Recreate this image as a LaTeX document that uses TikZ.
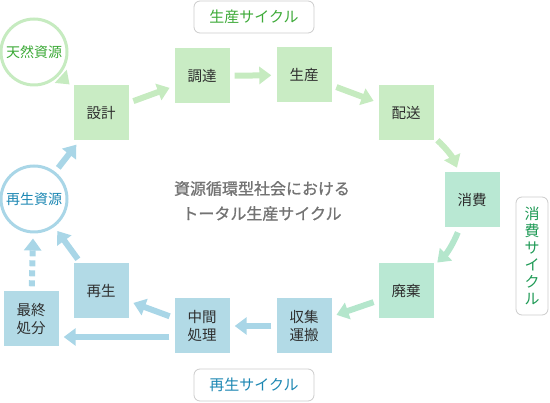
\documentclass[tikz,border=0pt]{standalone}
\usepackage{fontspec}
\setmainfont{Noto Sans CJK JP}
\newfontfamily\midfont[FakeBold=1]{Noto Sans CJK JP}
\usetikzlibrary{arrows.meta}
\definecolor{boxgreen}{HTML}{C9ECC4}
\definecolor{boxmint}{HTML}{B9E8D3}
\definecolor{boxblue}{HTML}{B2DAE6}
\definecolor{arrgreen}{HTML}{C6EBC0}
\definecolor{arrmint}{HTML}{B4E6CC}
\definecolor{arrblue}{HTML}{A9D6E7}
\definecolor{txtgreen}{HTML}{3DAA38}
\definecolor{txtteal}{HTML}{1E9A55}
\definecolor{txtblue}{HTML}{1C87B3}
\definecolor{txtdark}{HTML}{2E2E2E}
\begin{document}
\begin{tikzpicture}[x=1pt, y=-1pt,
            stage/.style={rectangle, minimum width=55pt, minimum height=55pt, inner sep=0pt, align=center, text=txtdark, font=\fontsize{14.5}{18}\selectfont},
            res/.style={circle, draw, line width=3pt, fill=white, minimum size=66pt, inner sep=0pt, font=\fontsize{14}{16}\selectfont},
            tag/.style={rectangle, draw=black!20, line width=0.8pt, rounded corners=6pt, fill=white, font=\fontsize{15}{17}\selectfont},
            flow/.style={line width=6pt, -{Triangle[width=17pt, length=12pt]}, shorten <=5pt, shorten >=5pt},
        ]
            \useasboundingbox (0,0) rectangle (550,403);

            % resources
            \node[res, draw=arrgreen, text=txtgreen] (natural) at (34,52) {天然資源};
            \node[res, draw=arrblue, text=txtblue] (recycled) at (34,199) {再生資源};

            % production cycle
            \node[stage, fill=boxgreen] (design) at (101,113) {設計};
            \node[stage, fill=boxgreen] (procure) at (202,76) {調達};
            \node[stage, fill=boxgreen] (produce) at (304,75) {生産};
            \node[stage, fill=boxgreen] (deliver) at (406,113) {配送};

            % consumption cycle
            \node[stage, fill=boxmint] (consume) at (472,200) {消費};
            \node[stage, fill=boxmint] (dispose) at (406,291) {廃棄};

            % recycling cycle
            \node[stage, fill=boxblue] (collect) at (304,326) {収集\\運搬};
            \node[stage, fill=boxblue] (process) at (202,326) {中間\\処理};
            \node[stage, fill=boxblue] (recycle) at (101,291) {再生};
            \node[stage, fill=boxblue] (landfill) at (31,319) {最終\\処分};

            % cycle tags
            \node[tag, text=txtgreen, minimum width=120pt, minimum height=32pt] (tagprod) at (254,17) {生産サイクル};
            \node[tag, text=txtteal, minimum width=32pt, minimum height=118pt, align=center] (tagcons) at (532,256) {消\\費\\サ\\イ\\ク\\ル};
            \node[tag, text=txtblue, minimum width=120pt, minimum height=32pt] (tagrec) at (254,385) {再生サイクル};

            % title
            \node[align=center, text=black!55, font=\fontsize{16}{25}\midfont] (title) at (262,201) {資源循環型社会における\\トータル生産サイクル};

            % green flow
            \draw[flow, arrgreen] (natural) -- (design);
            \draw[flow, arrgreen] (design) -- (procure);
            \draw[flow, arrgreen] (procure) -- (produce);
            \draw[flow, arrgreen] (produce) -- (deliver);
            \draw[flow, arrgreen] (deliver) to[bend left=12] (consume);
            \draw[flow, arrmint] (consume) to[bend left=12] (dispose);
            \draw[flow, arrmint] (dispose) -- (collect);

            % blue flow
            \draw[flow, arrblue] (collect) -- (process);
            \draw[flow, arrblue] ([yshift=-11pt]process.west) -- ([yshift=-18pt]landfill.east);
            \draw[flow, arrblue] ([yshift=8pt]process.west) -- (recycle);
            \draw[flow, arrblue] (recycle) -- (recycled);
            \draw[flow, arrblue, dash pattern=on 6pt off 4pt] (landfill) -- (recycled);
            \draw[flow, arrblue] (recycled) -- (design);
        \end{tikzpicture}
\end{document}
